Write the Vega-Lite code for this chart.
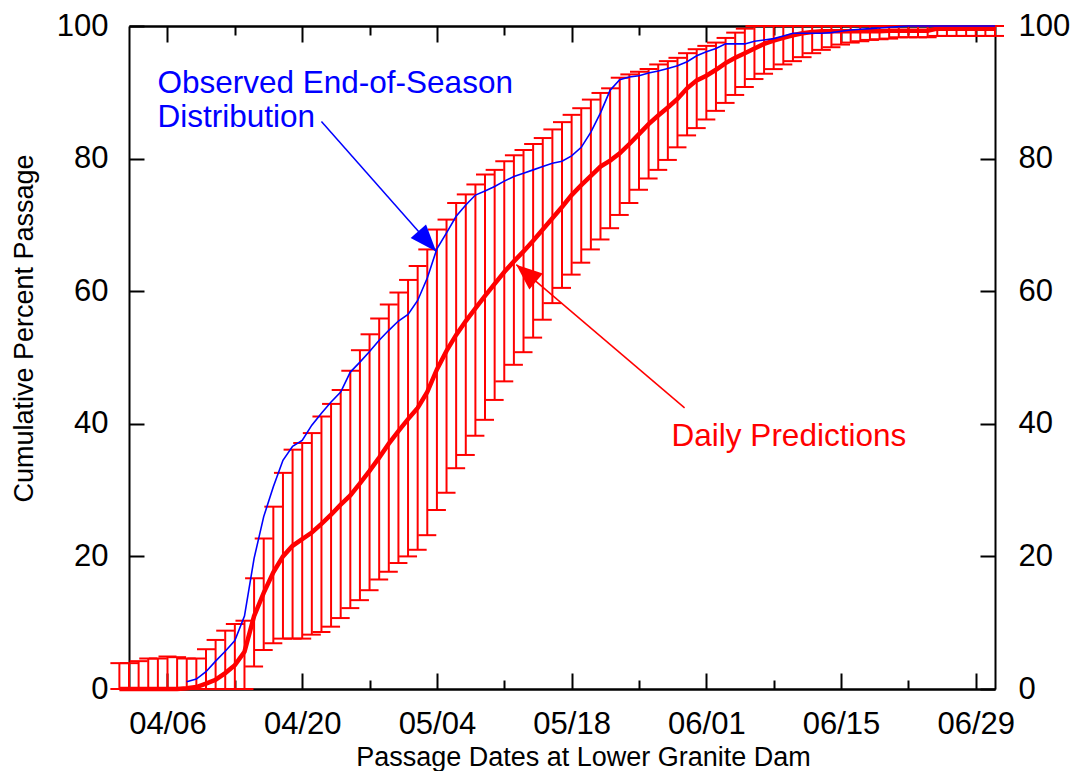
{
  "$schema": "https://vega.github.io/schema/vega-lite/v6.json",
  "width": 866,
  "height": 663,
  "autosize": {"type": "none"},
  "padding": {"left": 129, "top": 26, "right": 80, "bottom": 82},
  "background": "white",
  "config": {
    "font": "Liberation Sans",
    "view": {"stroke": null},
    "axis": {
      "grid": false,
      "domainColor": "black",
      "domainWidth": 2,
      "tickColor": "black",
      "tickWidth": 2,
      "labelColor": "black",
      "labelFont": "Liberation Sans",
      "labelFontSize": 31,
      "labelFlush": false,
      "labelOverlap": false,
      "labelBound": false,
      "titleFont": "Liberation Sans",
      "titleFontSize": 27,
      "titleFontWeight": "normal",
      "titleColor": "black"
    }
  },
  "datasets": {
    "pred": [
      {"date": "2001-04-01", "lo": 0, "mid": 0, "hi": 3.9},
      {"date": "2001-04-02", "lo": 0, "mid": 0, "hi": 3.9},
      {"date": "2001-04-03", "lo": 0, "mid": 0, "hi": 4.2},
      {"date": "2001-04-04", "lo": 0, "mid": 0, "hi": 4.6},
      {"date": "2001-04-05", "lo": 0, "mid": 0, "hi": 4.6},
      {"date": "2001-04-06", "lo": 0, "mid": 0, "hi": 4.9},
      {"date": "2001-04-07", "lo": 0, "mid": 0, "hi": 4.8},
      {"date": "2001-04-08", "lo": 0, "mid": 0.1, "hi": 4.6},
      {"date": "2001-04-09", "lo": 0, "mid": 0.3, "hi": 4.6},
      {"date": "2001-04-10", "lo": 0, "mid": 0.8, "hi": 6.0},
      {"date": "2001-04-11", "lo": 0, "mid": 1.4, "hi": 7.4},
      {"date": "2001-04-12", "lo": 0, "mid": 2.4, "hi": 8.8},
      {"date": "2001-04-13", "lo": 0, "mid": 3.6, "hi": 9.8},
      {"date": "2001-04-14", "lo": 0, "mid": 5.6, "hi": 10.3},
      {"date": "2001-04-15", "lo": 3.4, "mid": 11.0, "hi": 16.7},
      {"date": "2001-04-16", "lo": 5.9, "mid": 14.5, "hi": 22.7},
      {"date": "2001-04-17", "lo": 6.9, "mid": 17.6, "hi": 27.5},
      {"date": "2001-04-18", "lo": 7.6, "mid": 20.0, "hi": 32.6},
      {"date": "2001-04-19", "lo": 7.6, "mid": 21.6, "hi": 36.1},
      {"date": "2001-04-20", "lo": 7.6, "mid": 22.6, "hi": 37.1},
      {"date": "2001-04-21", "lo": 8.2, "mid": 23.6, "hi": 38.6},
      {"date": "2001-04-22", "lo": 8.6, "mid": 24.9, "hi": 41.1},
      {"date": "2001-04-23", "lo": 9.4, "mid": 26.3, "hi": 43.0},
      {"date": "2001-04-24", "lo": 10.7, "mid": 27.8, "hi": 45.1},
      {"date": "2001-04-25", "lo": 12.2, "mid": 29.2, "hi": 48.0},
      {"date": "2001-04-26", "lo": 13.4, "mid": 31.0, "hi": 51.1},
      {"date": "2001-04-27", "lo": 14.9, "mid": 32.9, "hi": 53.5},
      {"date": "2001-04-28", "lo": 16.5, "mid": 34.9, "hi": 55.9},
      {"date": "2001-04-29", "lo": 17.7, "mid": 37.0, "hi": 58.0},
      {"date": "2001-04-30", "lo": 19.0, "mid": 38.9, "hi": 59.8},
      {"date": "2001-05-01", "lo": 20.0, "mid": 40.7, "hi": 61.7},
      {"date": "2001-05-02", "lo": 21.0, "mid": 42.4, "hi": 63.8},
      {"date": "2001-05-03", "lo": 23.2, "mid": 44.8, "hi": 66.3},
      {"date": "2001-05-04", "lo": 27.0, "mid": 48.2, "hi": 69.3},
      {"date": "2001-05-05", "lo": 29.6, "mid": 51.0, "hi": 70.8},
      {"date": "2001-05-06", "lo": 33.3, "mid": 53.4, "hi": 73.3},
      {"date": "2001-05-07", "lo": 35.3, "mid": 55.5, "hi": 74.6},
      {"date": "2001-05-08", "lo": 38.2, "mid": 57.4, "hi": 76.1},
      {"date": "2001-05-09", "lo": 40.6, "mid": 59.3, "hi": 77.6},
      {"date": "2001-05-10", "lo": 43.6, "mid": 61.1, "hi": 78.3},
      {"date": "2001-05-11", "lo": 46.4, "mid": 62.9, "hi": 79.6},
      {"date": "2001-05-12", "lo": 48.9, "mid": 64.5, "hi": 80.5},
      {"date": "2001-05-13", "lo": 50.8, "mid": 66.0, "hi": 81.3},
      {"date": "2001-05-14", "lo": 53.0, "mid": 67.6, "hi": 82.2},
      {"date": "2001-05-15", "lo": 55.7, "mid": 69.3, "hi": 83.1},
      {"date": "2001-05-16", "lo": 58.2, "mid": 71.0, "hi": 84.4},
      {"date": "2001-05-17", "lo": 60.5, "mid": 72.7, "hi": 85.5},
      {"date": "2001-05-18", "lo": 62.5, "mid": 74.5, "hi": 86.6},
      {"date": "2001-05-19", "lo": 64.3, "mid": 76.0, "hi": 87.6},
      {"date": "2001-05-20", "lo": 66.3, "mid": 77.4, "hi": 88.9},
      {"date": "2001-05-21", "lo": 67.8, "mid": 78.8, "hi": 89.9},
      {"date": "2001-05-22", "lo": 69.5, "mid": 79.7, "hi": 90.6},
      {"date": "2001-05-23", "lo": 71.5, "mid": 80.8, "hi": 92.2},
      {"date": "2001-05-24", "lo": 73.3, "mid": 82.2, "hi": 92.7},
      {"date": "2001-05-25", "lo": 75.3, "mid": 83.7, "hi": 93.1},
      {"date": "2001-05-26", "lo": 77.0, "mid": 85.2, "hi": 93.5},
      {"date": "2001-05-27", "lo": 78.3, "mid": 86.5, "hi": 94.2},
      {"date": "2001-05-28", "lo": 79.8, "mid": 87.7, "hi": 94.7},
      {"date": "2001-05-29", "lo": 81.7, "mid": 89.0, "hi": 95.2},
      {"date": "2001-05-30", "lo": 83.5, "mid": 90.6, "hi": 95.9},
      {"date": "2001-05-31", "lo": 84.6, "mid": 91.8, "hi": 96.5},
      {"date": "2001-06-01", "lo": 85.9, "mid": 92.5, "hi": 97.0},
      {"date": "2001-06-02", "lo": 87.2, "mid": 93.4, "hi": 97.5},
      {"date": "2001-06-03", "lo": 88.4, "mid": 94.4, "hi": 98.2},
      {"date": "2001-06-04", "lo": 89.6, "mid": 95.2, "hi": 99.0},
      {"date": "2001-06-05", "lo": 90.8, "mid": 95.9, "hi": 99.6},
      {"date": "2001-06-06", "lo": 92.0, "mid": 96.6, "hi": 100},
      {"date": "2001-06-07", "lo": 92.8, "mid": 97.3, "hi": 100},
      {"date": "2001-06-08", "lo": 93.5, "mid": 97.8, "hi": 100},
      {"date": "2001-06-09", "lo": 94.2, "mid": 98.2, "hi": 100},
      {"date": "2001-06-10", "lo": 94.7, "mid": 98.6, "hi": 100},
      {"date": "2001-06-11", "lo": 95.3, "mid": 98.9, "hi": 100},
      {"date": "2001-06-12", "lo": 95.9, "mid": 99.1, "hi": 100},
      {"date": "2001-06-13", "lo": 96.4, "mid": 99.2, "hi": 100},
      {"date": "2001-06-14", "lo": 96.8, "mid": 99.2, "hi": 100},
      {"date": "2001-06-15", "lo": 97.2, "mid": 99.2, "hi": 100},
      {"date": "2001-06-16", "lo": 97.5, "mid": 99.2, "hi": 100},
      {"date": "2001-06-17", "lo": 97.7, "mid": 99.2, "hi": 100},
      {"date": "2001-06-18", "lo": 97.9, "mid": 99.2, "hi": 100},
      {"date": "2001-06-19", "lo": 98.0, "mid": 99.2, "hi": 100},
      {"date": "2001-06-20", "lo": 98.1, "mid": 99.3, "hi": 100},
      {"date": "2001-06-21", "lo": 98.3, "mid": 99.3, "hi": 100},
      {"date": "2001-06-22", "lo": 98.3, "mid": 99.3, "hi": 100},
      {"date": "2001-06-23", "lo": 98.3, "mid": 99.3, "hi": 100},
      {"date": "2001-06-24", "lo": 98.3, "mid": 99.3, "hi": 100},
      {"date": "2001-06-25", "lo": 98.5, "mid": 99.6, "hi": 100},
      {"date": "2001-06-26", "lo": 98.5, "mid": 99.6, "hi": 100},
      {"date": "2001-06-27", "lo": 98.5, "mid": 99.6, "hi": 100},
      {"date": "2001-06-28", "lo": 98.5, "mid": 99.6, "hi": 100},
      {"date": "2001-06-29", "lo": 98.5, "mid": 99.6, "hi": 100},
      {"date": "2001-06-30", "lo": 98.5, "mid": 99.6, "hi": 100},
      {"date": "2001-07-01", "lo": 98.5, "mid": 99.6, "hi": 100}
    ],
    "obs": [
      {"date": "2001-04-08", "pct": 1.1},
      {"date": "2001-04-09", "pct": 1.5},
      {"date": "2001-04-10", "pct": 2.6},
      {"date": "2001-04-11", "pct": 4.2},
      {"date": "2001-04-12", "pct": 5.7},
      {"date": "2001-04-13", "pct": 7.3},
      {"date": "2001-04-14", "pct": 11.0},
      {"date": "2001-04-15", "pct": 19.7},
      {"date": "2001-04-16", "pct": 26.0},
      {"date": "2001-04-17", "pct": 30.5},
      {"date": "2001-04-18", "pct": 34.5},
      {"date": "2001-04-19", "pct": 36.6},
      {"date": "2001-04-20", "pct": 37.5},
      {"date": "2001-04-21", "pct": 39.8},
      {"date": "2001-04-22", "pct": 41.6},
      {"date": "2001-04-23", "pct": 43.3},
      {"date": "2001-04-24", "pct": 44.8},
      {"date": "2001-04-25", "pct": 47.8},
      {"date": "2001-04-26", "pct": 49.3},
      {"date": "2001-04-27", "pct": 50.9},
      {"date": "2001-04-28", "pct": 52.6},
      {"date": "2001-04-29", "pct": 54.1},
      {"date": "2001-04-30", "pct": 55.5},
      {"date": "2001-05-01", "pct": 56.5},
      {"date": "2001-05-02", "pct": 58.6},
      {"date": "2001-05-03", "pct": 62.0},
      {"date": "2001-05-04", "pct": 66.4},
      {"date": "2001-05-05", "pct": 68.8},
      {"date": "2001-05-06", "pct": 71.3},
      {"date": "2001-05-07", "pct": 73.0},
      {"date": "2001-05-08", "pct": 74.5},
      {"date": "2001-05-09", "pct": 75.1},
      {"date": "2001-05-10", "pct": 75.8},
      {"date": "2001-05-11", "pct": 76.6},
      {"date": "2001-05-12", "pct": 77.3},
      {"date": "2001-05-13", "pct": 77.8},
      {"date": "2001-05-14", "pct": 78.3},
      {"date": "2001-05-15", "pct": 78.8},
      {"date": "2001-05-16", "pct": 79.3},
      {"date": "2001-05-17", "pct": 79.6},
      {"date": "2001-05-18", "pct": 80.4},
      {"date": "2001-05-19", "pct": 81.7},
      {"date": "2001-05-20", "pct": 84.0},
      {"date": "2001-05-21", "pct": 86.9},
      {"date": "2001-05-22", "pct": 90.3},
      {"date": "2001-05-23", "pct": 91.9},
      {"date": "2001-05-24", "pct": 92.3},
      {"date": "2001-05-25", "pct": 92.5},
      {"date": "2001-05-26", "pct": 92.9},
      {"date": "2001-05-27", "pct": 93.2},
      {"date": "2001-05-28", "pct": 93.6},
      {"date": "2001-05-29", "pct": 94.0},
      {"date": "2001-05-30", "pct": 94.6},
      {"date": "2001-05-31", "pct": 95.5},
      {"date": "2001-06-01", "pct": 96.1},
      {"date": "2001-06-02", "pct": 96.6},
      {"date": "2001-06-03", "pct": 97.3},
      {"date": "2001-06-04", "pct": 97.3},
      {"date": "2001-06-05", "pct": 97.3},
      {"date": "2001-06-06", "pct": 97.7},
      {"date": "2001-06-07", "pct": 97.9},
      {"date": "2001-06-08", "pct": 98.1},
      {"date": "2001-06-09", "pct": 98.5},
      {"date": "2001-06-10", "pct": 98.9},
      {"date": "2001-06-11", "pct": 98.9},
      {"date": "2001-06-12", "pct": 98.9},
      {"date": "2001-06-13", "pct": 98.9},
      {"date": "2001-06-14", "pct": 99.0},
      {"date": "2001-06-15", "pct": 99.2},
      {"date": "2001-06-16", "pct": 99.4},
      {"date": "2001-06-17", "pct": 99.5},
      {"date": "2001-06-18", "pct": 99.6},
      {"date": "2001-06-19", "pct": 99.7},
      {"date": "2001-06-20", "pct": 99.8},
      {"date": "2001-06-21", "pct": 99.9},
      {"date": "2001-06-22", "pct": 100},
      {"date": "2001-06-23", "pct": 100},
      {"date": "2001-06-24", "pct": 100},
      {"date": "2001-06-25", "pct": 100},
      {"date": "2001-06-26", "pct": 100},
      {"date": "2001-06-27", "pct": 100},
      {"date": "2001-06-28", "pct": 100},
      {"date": "2001-06-29", "pct": 100},
      {"date": "2001-06-30", "pct": 100},
      {"date": "2001-07-01", "pct": 100}
    ],
    "arrows": [
      {"kind": "obs", "from": "2001-04-22T00:00:00Z", "fromPct": 85.6, "to": "2001-05-03T22:19:00Z", "toPct": 66.0},
      {"kind": "pred", "from": "2001-05-29T17:46:00Z", "fromPct": 42.4, "to": "2001-05-12T06:00:00Z", "toPct": 64.0}
    ],
    "notes": [
      {"kind": "obs", "date": "2001-04-04T23:00:00Z", "pct": 89.9, "label": "Observed End-of-Season\nDistribution"},
      {"kind": "pred", "date": "2001-05-28T09:22:00Z", "pct": 36.7, "label": "Daily Predictions"}
    ]
  },
  "layer": [
    {
      "data": {"name": "pred"},
      "mark": {"type": "rule", "color": "#ff0000", "strokeWidth": 2},
      "encoding": {
        "x": {
          "field": "date", "type": "temporal",
          "scale": {"type": "utc", "domain": [{"year": 2001, "month": 4, "date": 2, "utc": true}, {"year": 2001, "month": 7, "date": 1, "utc": true}]},
          "axis": {
            "orient": "bottom",
            "values": [
              {"year": 2001, "month": 4, "date": 6, "utc": true},
              {"year": 2001, "month": 4, "date": 20, "utc": true},
              {"year": 2001, "month": 5, "date": 4, "utc": true},
              {"year": 2001, "month": 5, "date": 18, "utc": true},
              {"year": 2001, "month": 6, "date": 1, "utc": true},
              {"year": 2001, "month": 6, "date": 15, "utc": true},
              {"year": 2001, "month": 6, "date": 29, "utc": true}
            ],
            "format": "%m/%d",
            "tickSize": -16,
            "labelPadding": 36,
            "title": "Passage Dates at Lower Granite Dam",
            "titleX": 454, "titleY": 76,
            "titleAlign": "center", "titleBaseline": "alphabetic", "titleAnchor": null
          }
        },
        "y": {
          "field": "lo", "type": "quantitative",
          "scale": {"domain": [0, 100], "nice": false},
          "axis": {
            "orient": "left",
            "values": [0, 20, 40, 60, 80, 100],
            "tickSize": -15,
            "labelPadding": 36,
            "title": "Cumulative Percent Passage",
            "titleX": -105, "titleY": 302,
            "titleAlign": "center", "titleBaseline": "middle", "titleAngle": -90
          }
        },
        "y2": {"field": "hi"}
      }
    },
    {
      "data": {"name": "pred"},
      "mark": {"type": "tick", "orient": "horizontal", "size": 18, "thickness": 2, "color": "#ff0000", "opacity": 1},
      "encoding": {
        "x": {
          "field": "date", "type": "temporal",
          "scale": {"type": "utc", "domain": [{"year": 2001, "month": 4, "date": 2, "utc": true}, {"year": 2001, "month": 7, "date": 1, "utc": true}]},
          "axis": {
            "orient": "top",
            "values": [
              {"year": 2001, "month": 4, "date": 6, "utc": true},
              {"year": 2001, "month": 4, "date": 20, "utc": true},
              {"year": 2001, "month": 5, "date": 4, "utc": true},
              {"year": 2001, "month": 5, "date": 18, "utc": true},
              {"year": 2001, "month": 6, "date": 1, "utc": true},
              {"year": 2001, "month": 6, "date": 15, "utc": true},
              {"year": 2001, "month": 6, "date": 29, "utc": true}
            ],
            "tickSize": -16, "labels": false, "title": null
          }
        },
        "y": {
          "field": "lo", "type": "quantitative",
          "scale": {"domain": [0, 100], "nice": false},
          "axis": {
            "orient": "right",
            "values": [0, 20, 40, 60, 80, 100],
            "tickSize": -15,
            "labelPadding": 38,
            "title": null
          }
        }
      }
    },
    {
      "data": {"name": "pred"},
      "mark": {"type": "tick", "orient": "horizontal", "size": 18, "thickness": 2, "color": "#ff0000", "opacity": 1},
      "encoding": {
        "x": {
          "field": "date", "type": "temporal",
          "scale": {"type": "utc", "domain": [{"year": 2001, "month": 4, "date": 2, "utc": true}, {"year": 2001, "month": 7, "date": 1, "utc": true}]},
          "axis": {
            "orient": "bottom",
            "values": [
              {"year": 2001, "month": 4, "date": 13, "utc": true},
              {"year": 2001, "month": 4, "date": 27, "utc": true},
              {"year": 2001, "month": 5, "date": 11, "utc": true},
              {"year": 2001, "month": 5, "date": 25, "utc": true},
              {"year": 2001, "month": 6, "date": 8, "utc": true},
              {"year": 2001, "month": 6, "date": 22, "utc": true}
            ],
            "tickSize": -9, "labels": false, "title": null
          }
        },
        "y": {
          "field": "hi", "type": "quantitative",
          "scale": {"domain": [0, 100], "nice": false},
          "axis": null
        }
      }
    },
    {
      "data": {"name": "pred"},
      "mark": {"type": "line", "color": "#ff0000", "strokeWidth": 4.5},
      "encoding": {
        "x": {
          "field": "date", "type": "temporal",
          "scale": {"type": "utc", "domain": [{"year": 2001, "month": 4, "date": 2, "utc": true}, {"year": 2001, "month": 7, "date": 1, "utc": true}]},
          "axis": {
            "orient": "top",
            "values": [
              {"year": 2001, "month": 4, "date": 13, "utc": true},
              {"year": 2001, "month": 4, "date": 27, "utc": true},
              {"year": 2001, "month": 5, "date": 11, "utc": true},
              {"year": 2001, "month": 5, "date": 25, "utc": true},
              {"year": 2001, "month": 6, "date": 8, "utc": true},
              {"year": 2001, "month": 6, "date": 22, "utc": true}
            ],
            "tickSize": -9, "labels": false, "title": null
          }
        },
        "y": {
          "field": "mid", "type": "quantitative",
          "scale": {"domain": [0, 100], "nice": false},
          "axis": null
        }
      }
    },
    {
      "data": {"name": "obs"},
      "mark": {"type": "line", "color": "#0000ff", "strokeWidth": 1.6},
      "encoding": {
        "x": {
          "field": "date", "type": "temporal",
          "scale": {"type": "utc", "domain": [{"year": 2001, "month": 4, "date": 2, "utc": true}, {"year": 2001, "month": 7, "date": 1, "utc": true}]},
          "axis": null
        },
        "y": {
          "field": "pct", "type": "quantitative",
          "scale": {"domain": [0, 100], "nice": false},
          "axis": null
        }
      }
    },
    {
      "data": {"name": "arrows"},
      "mark": {"type": "rule", "strokeWidth": 1.5},
      "encoding": {
        "x": {
          "field": "from", "type": "temporal",
          "scale": {"type": "utc", "domain": [{"year": 2001, "month": 4, "date": 2, "utc": true}, {"year": 2001, "month": 7, "date": 1, "utc": true}]},
          "axis": null
        },
        "x2": {"field": "to"},
        "y": {
          "field": "fromPct", "type": "quantitative",
          "scale": {"domain": [0, 100], "nice": false},
          "axis": null
        },
        "y2": {"field": "toPct"},
        "color": {"field": "kind", "type": "nominal", "scale": {"domain": ["obs", "pred"], "range": ["#0000ff", "#ff0000"]}, "legend": null}
      }
    },
    {
      "data": {"name": "arrows"},
      "transform": [{"filter": "datum.kind === 'obs'"}],
      "mark": {"type": "point", "shape": "M0,0L-0.38,1L0.38,1Z", "size": 2916, "angle": 138.5, "filled": true, "opacity": 1, "strokeWidth": 0},
      "encoding": {
        "x": {
          "field": "to", "type": "temporal",
          "scale": {"type": "utc", "domain": [{"year": 2001, "month": 4, "date": 2, "utc": true}, {"year": 2001, "month": 7, "date": 1, "utc": true}]},
          "axis": null
        },
        "y": {
          "field": "toPct", "type": "quantitative",
          "scale": {"domain": [0, 100], "nice": false},
          "axis": null
        },
        "color": {"field": "kind", "type": "nominal", "scale": {"domain": ["obs", "pred"], "range": ["#0000ff", "#ff0000"]}, "legend": null}
      }
    },
    {
      "data": {"name": "arrows"},
      "transform": [{"filter": "datum.kind === 'pred'"}],
      "mark": {"type": "point", "shape": "M0,0L-0.4,1L0.4,1Z", "size": 2704, "angle": 310.4, "filled": true, "opacity": 1, "strokeWidth": 0},
      "encoding": {
        "x": {
          "field": "to", "type": "temporal",
          "scale": {"type": "utc", "domain": [{"year": 2001, "month": 4, "date": 2, "utc": true}, {"year": 2001, "month": 7, "date": 1, "utc": true}]},
          "axis": null
        },
        "y": {
          "field": "toPct", "type": "quantitative",
          "scale": {"domain": [0, 100], "nice": false},
          "axis": null
        },
        "color": {"field": "kind", "type": "nominal", "scale": {"domain": ["obs", "pred"], "range": ["#0000ff", "#ff0000"]}, "legend": null}
      }
    },
    {
      "data": {"name": "notes"},
      "mark": {"type": "text", "align": "left", "baseline": "alphabetic", "fontSize": 31.5, "lineBreak": "\n", "lineHeight": 34, "font": "Liberation Sans"},
      "encoding": {
        "x": {
          "field": "date", "type": "temporal",
          "scale": {"type": "utc", "domain": [{"year": 2001, "month": 4, "date": 2, "utc": true}, {"year": 2001, "month": 7, "date": 1, "utc": true}]},
          "axis": null
        },
        "y": {
          "field": "pct", "type": "quantitative",
          "scale": {"domain": [0, 100], "nice": false},
          "axis": null
        },
        "text": {"field": "label", "type": "nominal"},
        "color": {"field": "kind", "type": "nominal", "scale": {"domain": ["obs", "pred"], "range": ["#0000ff", "#ff0000"]}, "legend": null}
      }
    }
  ],
  "resolve": {"axis": {"x": "independent", "y": "independent"}}
}
